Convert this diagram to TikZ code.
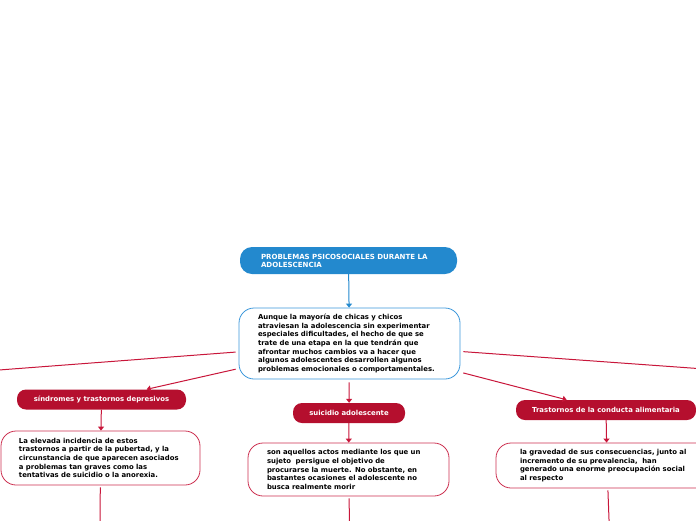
\documentclass[tikz,border=0pt]{standalone}
\usepackage{fontspec}
\setmainfont{DejaVu Sans}
\usetikzlibrary{arrows.meta}
\definecolor{mblue}{HTML}{2389CE}
\definecolor{bblue}{HTML}{3B97DB}
\definecolor{mred}{HTML}{B50F2E}
\definecolor{lred}{HTML}{C8163A}
\definecolor{bred}{HTML}{CC3050}
\tikzset{
  base/.style={font=\fontsize{6.9}{8.7}\selectfont\bfseries, align=left, inner ysep=0pt},
  title/.style={base, fill=mblue, text=white, rounded corners=12pt, minimum height=27pt, text width=175pt, inner xsep=21pt, font=\fontsize{7.05}{8}\selectfont\bfseries},
  mainbox/.style={base, draw=bblue, line width=0.8pt, fill=white, rounded corners=15pt, minimum height=71pt, text width=183pt, inner xsep=19pt},
  topic/.style={base, fill=mred, text=white, rounded corners=9pt, minimum height=20pt, align=center},
  sub/.style={base, draw=bred, line width=0.8pt, fill=white, rounded corners=15pt},
  bluearrow/.style={draw=mblue, line width=1pt, -{Triangle[width=6pt,length=4pt]}},
  redarrow/.style={draw=lred, line width=1pt, -{Triangle[width=6pt,length=4pt]}},
  redline/.style={draw=lred, line width=1pt},
}
\begin{document}
\begin{tikzpicture}[x=1pt, y=-1pt]
\useasboundingbox (0,0) rectangle (696,520);
\clip (0,0) rectangle (696,520);
\node[title] (t) at (348.5,260.5) {PROBLEMAS PSICOSOCIALES DURANTE LA\\ADOLESCENCIA};
\node[mainbox] (m) at (349.5,343.5) {Aunque la mayoría de chicas y chicos\\atraviesan la adolescencia sin experimentar\\especiales dificultades, el hecho de que se\\trate de una etapa en la que tendrán que\\afrontar muchos cambios va a hacer que\\algunos adolescentes desarrollen algunos\\problemas emocionales o comportamentales.};
\node[topic, minimum width=169pt] (s) at (101.5,399.5) {síndromes y trastornos depresivos};
\node[topic, minimum width=112pt] (u) at (349,413) {suicidio adolescente};
\node[topic, minimum width=180pt] (a) at (606,410) {Trastornos de la conducta alimentaria};
\node[sub, minimum height=54pt, text width=163pt, inner xsep=18pt] (sc) at (100.5,458) {La elevada incidencia de estos\\trastornos a partir de la pubertad, y la\\circunstancia de que aparecen asociados\\a problemas tan graves como las\\tentativas de suicidio o la anorexia.};
\node[sub, minimum height=53pt, text width=163pt, inner xsep=19pt] (uc) at (348.5,469.5) {son aquellos actos mediante los que un\\sujeto\ \ persigue el objetivo de\\procurarse la muerte. No obstante, en\\bastantes ocasiones el adolescente no\\busca realmente morir};
\node[sub, minimum height=45pt, text width=174pt, inner xsep=24pt] (ac) at (607,465.5) {la gravedad de sus consecuencias, junto al\\incremento de su prevalencia,\ \ han\\generado una enorme preocupación social\\al respecto};
\coordinate (offL) at (-120,379);
\coordinate (offR) at (816,377);
\coordinate (b1) at (99.5,600);
\coordinate (b2) at (351,600);
\coordinate (b3) at (612,600);
\draw[bluearrow] (t) -- (m);
\draw[redline, shorten <=3pt] (m) -- (offL);
\draw[redline, shorten <=3pt] (m) -- (offR);
\draw[redarrow, shorten <=3pt] (m) -- (s);
\draw[redarrow, shorten <=3pt] (m) -- (u);
\draw[redarrow, shorten <=3pt] (m) -- (a);
\draw[redarrow] (s) -- (sc);
\draw[redarrow] (u) -- (uc);
\draw[redarrow] (a) -- (ac);
\draw[redline, shorten <=2pt] (sc) -- (b1);
\draw[redline, shorten <=2pt] (uc) -- (b2);
\draw[redline, shorten <=2pt] (ac) -- (b3);
\end{tikzpicture}
\end{document}
